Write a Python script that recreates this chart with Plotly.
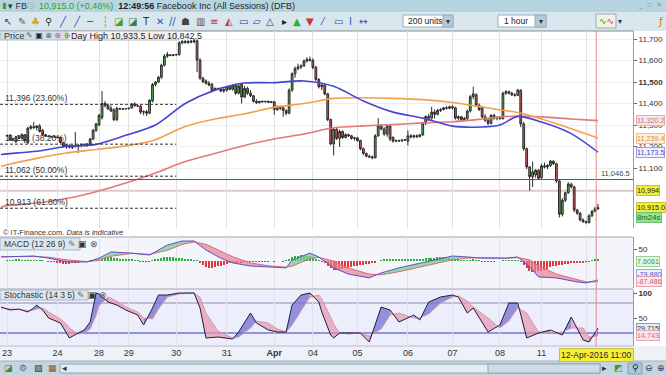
import plotly.graph_objects as go

# ---------------- data ----------------
day_labels = ["23", "24", "28", "29", "30", "31", "Apr", "04", "05", "06", "07", "08", "11", "12"]
bars_per_day = [17, 14, 10, 16, 17, 16, 13, 15, 17, 15, 16, 14, 15, 5]
crosshair_label = "12-Apr-2016 11:00"

bar_open = [
    11250, 11252, 11232, 11222, 11245, 11238, 11255, 11218, 11285, 11292, 11288, 11295, 11275, 11255, 11248, 11246, 11245,
    11244, 11242, 11218, 11200, 11205, 11196, 11204, 11200, 11205, 11208, 11204, 11210, 11235, 11275,
    11300, 11335, 11400, 11392, 11378, 11370, 11325, 11376, 11374, 11375,
    11376, 11380, 11398, 11390, 11388, 11360, 11362, 11355, 11412, 11488, 11500, 11522, 11578, 11620, 11626, 11624,
    11626, 11628, 11682, 11688, 11684, 11690, 11686, 11692, 11602, 11518, 11505, 11494, 11490, 11462, 11470, 11468, 11458,
    11462, 11478, 11466, 11485, 11448, 11490, 11430, 11470, 11448, 11436, 11410, 11404, 11410, 11408, 11410, 11406,
    11408, 11372, 11385, 11380, 11368, 11355, 11462, 11538, 11562, 11570, 11575, 11598, 11605,
    11600, 11568, 11512, 11478, 11486, 11445, 11325, 11212, 11280, 11238, 11270, 11242, 11255, 11250, 11238,
    11240, 11228, 11190, 11168, 11155, 11152, 11148, 11250, 11298, 11282, 11258, 11295, 11242, 11225, 11228, 11226, 11230,
    11225, 11250, 11245, 11250, 11246, 11254, 11308, 11340, 11332, 11360, 11350, 11368, 11372, 11380, 11378,
    11385, 11380, 11332, 11338, 11325, 11330, 11365, 11432, 11440, 11392, 11380, 11338, 11322, 11308, 11345, 11332,
    11336, 11330, 11448, 11455, 11448, 11440, 11438, 11462, 11305, 11190, 11105, 11060, 11068, 11090,
    11055, 11110, 11105, 11112, 11132, 11120, 11040, 10885, 10950, 10985, 11025, 11012, 10905, 10890, 10858,
    10850, 10846, 10878, 10898, 10910,
]
bar_high = [
    11254, 11258, 11240, 11250, 11252, 11262, 11258, 11292, 11300, 11314, 11300, 11305, 11282, 11258, 11250, 11248, 11247,
    11246, 11246, 11222, 11212, 11210, 11208, 11268, 11212, 11214, 11215, 11215, 11240, 11282, 11310,
    11352, 11458, 11412, 11400, 11390, 11378, 11384, 11380, 11378, 11378,
    11380, 11402, 11405, 11392, 11392, 11368, 11370, 11420, 11495, 11505, 11528, 11585, 11630, 11640, 11630, 11628,
    11630, 11690, 11695, 11695, 11692, 11696, 11700, 11698, 11610, 11524, 11512, 11505, 11495, 11475, 11474, 11475, 11470,
    11482, 11485, 11490, 11492, 11490, 11496, 11482, 11478, 11462, 11440, 11420, 11412, 11414, 11412, 11414, 11410,
    11412, 11392, 11390, 11386, 11372, 11470, 11545, 11572, 11585, 11582, 11605, 11615, 11618,
    11610, 11575, 11518, 11490, 11490, 11450, 11330, 11290, 11292, 11278, 11275, 11262, 11260, 11254, 11245,
    11245, 11232, 11195, 11172, 11162, 11158, 11258, 11332, 11305, 11290, 11300, 11300, 11248, 11232, 11232, 11232, 11234,
    11275, 11258, 11255, 11256, 11258, 11315, 11345, 11352, 11385, 11372, 11375, 11378, 11384, 11388, 11390,
    11392, 11385, 11345, 11342, 11338, 11372, 11440, 11478, 11448, 11400, 11388, 11350, 11330, 11350, 11352, 11340,
    11342, 11455, 11462, 11460, 11455, 11448, 11468, 11466, 11315, 11195, 11110, 11130, 11095, 11095,
    11120, 11125, 11118, 11138, 11136, 11125, 11045, 10960, 10990, 11035, 11032, 11018, 10910, 10895, 10866,
    10856, 10885, 10905, 10920, 10933.5,
]
bar_low = [
    11246, 11228, 11225, 11218, 11235, 11232, 11216, 11212, 11278, 11282, 11275, 11265, 11250, 11245, 11244, 11243, 11242,
    11240, 11215, 11195, 11190, 11192, 11188, 11195, 11170, 11196, 11200, 11198, 11205, 11230, 11268,
    11295, 11325, 11382, 11370, 11360, 11318, 11318, 11372, 11370, 11372,
    11372, 11375, 11385, 11385, 11350, 11345, 11342, 11350, 11405, 11480, 11495, 11515, 11572, 11612, 11620, 11620,
    11622, 11622, 11675, 11678, 11676, 11680, 11680, 11546, 11510, 11495, 11488, 11480, 11452, 11458, 11465, 11452, 11450,
    11455, 11462, 11460, 11440, 11442, 11400, 11425, 11440, 11430, 11405, 11398, 11400, 11405, 11404, 11405, 11402,
    11348, 11365, 11370, 11338, 11345, 11350, 11455, 11520, 11555, 11560, 11570, 11590, 11595,
    11560, 11505, 11470, 11462, 11438, 11318, 11205, 11158, 11230, 11198, 11235, 11238, 11245, 11232, 11228,
    11222, 11182, 11160, 11150, 11145, 11140, 11144, 11245, 11275, 11250, 11245, 11225, 11218, 11220, 11222, 11222, 11225,
    11205, 11238, 11238, 11240, 11242, 11250, 11300, 11320, 11325, 11330, 11345, 11360, 11368, 11372, 11374,
    11372, 11325, 11322, 11318, 11318, 11322, 11358, 11420, 11385, 11365, 11330, 11315, 11300, 11302, 11325, 11322,
    11325, 11325, 11440, 11442, 11435, 11432, 11434, 11290, 11180, 11095, 10995, 11012, 11055, 11045,
    11050, 11098, 11095, 11105, 11115, 11030, 10870, 10875, 10942, 10980, 11005, 10895, 10882, 10852, 10845,
    10842.5, 10843, 10872, 10895, 10905,
]
bar_close = [
    11252, 11232, 11236, 11245, 11240, 11255, 11228, 11285, 11292, 11288, 11295, 11270, 11255, 11248, 11246, 11245, 11244,
    11242, 11218, 11200, 11205, 11196, 11204, 11200, 11205, 11208, 11204, 11212, 11235, 11275, 11305,
    11345, 11400, 11390, 11375, 11365, 11325, 11378, 11374, 11375, 11376,
    11378, 11398, 11390, 11388, 11360, 11362, 11355, 11415, 11488, 11500, 11522, 11578, 11620, 11628, 11624, 11626,
    11628, 11682, 11688, 11684, 11690, 11686, 11692, 11602, 11518, 11502, 11494, 11486, 11460, 11470, 11468, 11458, 11466,
    11478, 11466, 11485, 11448, 11482, 11430, 11470, 11448, 11436, 11410, 11404, 11410, 11408, 11410, 11406, 11408,
    11372, 11385, 11378, 11368, 11355, 11462, 11538, 11562, 11570, 11575, 11598, 11605, 11600,
    11568, 11512, 11478, 11486, 11445, 11325, 11212, 11280, 11238, 11270, 11242, 11255, 11250, 11238, 11240,
    11228, 11190, 11168, 11155, 11152, 11148, 11250, 11298, 11282, 11258, 11295, 11235, 11225, 11228, 11226, 11230, 11232,
    11250, 11245, 11250, 11246, 11254, 11308, 11340, 11332, 11360, 11350, 11368, 11372, 11380, 11378, 11385,
    11380, 11332, 11338, 11325, 11330, 11365, 11432, 11445, 11392, 11372, 11338, 11322, 11308, 11345, 11332, 11336,
    11330, 11448, 11455, 11448, 11440, 11438, 11462, 11305, 11190, 11105, 11060, 11082, 11090, 11052,
    11110, 11105, 11112, 11132, 11120, 11040, 10885, 10950, 10985, 11025, 11012, 10905, 10890, 10858, 10850,
    10846, 10878, 10898, 10910, 10915.0,
]

# moving averages, read at selected bar numbers
ma_bar = [-2, 0, 10, 20, 30, 40, 50, 60, 70, 80, 90, 100, 110, 120, 130, 140, 150, 160, 166, 172, 180, 190, 199]
ma_blue = [11163, 11166, 11178, 11200, 11210, 11252, 11300, 11400, 11462, 11495, 11497, 11505, 11480, 11412, 11360,
           11332, 11295, 11291, 11300, 11340, 11314, 11260, 11173.5]
ma_orange = [11108, 11115, 11145, 11170, 11186, 11203, 11232, 11293, 11328, 11352, 11382, 11400, 11424, 11427, 11424,
             11418, 11405, 11384, 11370, 11358, 11328, 11283, 11239.4]
ma_red = [10918, 10925, 10937, 10958, 10990, 11030, 11077, 11130, 11168, 11205, 11235, 11258, 11287, 11296, 11302,
          11310, 11315, 11328, 11337, 11342, 11338, 11328, 11320.2]

fib_pct = ["23.60%", "38.20%", "50.00%", "61.80%"]
fib_level = [11396, 11211, 11062, 10913]
fib_end_bar = 57
hline_dark = 11046.5
hline_light = 10994
price_ticks = [11100, 11200, 11300, 11400, 11500, 11600, 11700]

# MACD (12 26 9)
macd_bar = [-2, 9, 14, 20, 27, 31, 35, 42, 48, 54, 59, 63, 67, 72, 76, 82, 88, 94, 96, 102,
            105, 110, 115, 122, 126, 132, 141, 150, 155, 160, 168, 172, 176, 179, 185, 192, 195, 199]
macd_line = [17, 21, 12, -4, -4, 12, 38, 33, 25, 67, 84, 84, 46, 12, -8, -21, -25, -29, 4, 33,
             17, -29, -55, -71, -50, -29, -4, 21, 17, 12, 12, 17, -25, -67, -71, -88, -92, -79.880]
macd_signal = [18, 19, 16, 5, -3, 3, 20, 32, 28, 45, 70, 80, 70, 40, 18, -8, -20, -26, -22, 10,
               15, 0, -30, -55, -58, -45, -20, 5, 12, 14, 12, 14, 5, -20, -55, -78, -88, -87.486]
macd_hist = [
    3, 4, 4, 5, 5, 4, 4, 3, 3, 2, 2, 1, 1, 0, -1, -2, -4,
    -6, -9, -11, -12, -12, -10, -8, -6, -4, -2, 0, 2, 4, 7,
    10, 14, 16, 16, 15, 13, 12, 10, 9, 8,
    6, 5, 3, 1, -2, -4, -4, -2, 2, 6, 10, 14, 17, 18, 18, 16,
    14, 13, 12, 10, 8, 6, 4, 1, -8, -18, -25, -28, -28, -26, -23, -20, -16,
    -12, -9, -7, -5, -4, -5, -4, -4, -3, -3, -2, -2, -1, -1, -1, 0,
    -1, 0, 0, -1, 1, 8, 15, 20, 23, 25, 25, 23, 20,
    15, 10, 4, -2, -10, -20, -30, -36, -37, -36, -34, -31, -28, -25, -22,
    -19, -17, -15, -13, -11, -9, -6, 0, 4, 6, 8, 9, 10, 10, 10, 10, 9,
    9, 9, 8, 8, 9, 10, 11, 12, 13, 14, 15, 16, 16, 15, 13,
    10, 7, 5, 3, 1, 2, 4, 5, 3, 1, -1, -2, -2, -1, -1, 0,
    0, 2, 3, 3, 2, 2, 2, -4, -15, -28, -40, -45, -45, -44,
    -40, -36, -32, -27, -23, -20, -18, -15, -13, -11, -9, -10, -10, -9, -7,
    -4, -1, 2, 5, 7.6061,
]

# Stochastic (14 3 5)
stoch_bar = [-2, 1, 4, 7, 9, 10, 12, 14, 18, 20, 21, 24, 26, 28, 30, 31, 34, 37, 40, 44,
             46, 49, 51, 54, 58, 63, 65, 67, 71, 76, 78, 82, 84, 88, 91, 94, 96, 99, 102, 105,
             106, 109, 110, 112, 115, 119, 122, 126, 129, 132, 137, 139, 142, 146, 150, 152, 155, 157, 162, 166,
             169, 172, 175, 179, 183, 187, 190, 194, 196, 199]
stoch_k = [72, 66, 68, 62, 70, 76, 66, 50, 40, 20, 10, 20, 26, 42, 100, 98, 82, 76, 66, 56,
           36, 70, 96, 96, 100, 100, 70, 10, 12, 8, 22, 60, 40, 26, 22, 22, 76, 96, 100, 82,
           62, 16, 10, 20, 20, 20, 2, 72, 66, 42, 56, 46, 82, 92, 96, 92, 60, 70, 22, 36,
           80, 80, 10, 20, 26, 16, 52, 6, 2, 29.715]
stoch_d = [70, 68, 67, 65, 66, 68, 70, 62, 48, 38, 30, 18, 20, 28, 55, 75, 92, 84, 72, 62,
           50, 48, 68, 92, 98, 100, 92, 60, 24, 10, 12, 30, 44, 40, 28, 22, 36, 64, 92, 96,
           88, 52, 38, 20, 18, 20, 14, 28, 56, 60, 50, 50, 58, 80, 92, 94, 84, 72, 50, 30,
           44, 70, 60, 22, 20, 22, 30, 30, 12, 14.743]
stoch_levels = [80, 20]

n_bars = sum(bars_per_day)
for arr in (bar_open, bar_high, bar_low, bar_close, macd_hist):
    assert len(arr) == n_bars, len(arr)
assert len(ma_bar) == len(ma_blue) == len(ma_orange) == len(ma_red)
assert len(macd_bar) == len(macd_line) == len(macd_signal)
assert len(stoch_bar) == len(stoch_k) == len(stoch_d)

# ---------------- layout helpers ----------------
W, H = 666, 375
FONT = "Liberation Sans, Arial, sans-serif"
ICONF = "DejaVu Sans"


def fx(p):
    return p / W


def fy(p):
    return 1 - p / H


bar_x = list(range(n_bars))
day_start = []
acc = 0
for n in bars_per_day:
    day_start.append(acc)
    acc += n
last_bar = bar_x[-1]
X_RANGE = [-2.36, 210.8]

fig = go.Figure()

# ---- main price panel ----
fig.add_trace(go.Candlestick(
    x=bar_x, open=bar_open, high=bar_high, low=bar_low, close=bar_close,
    xaxis="x", yaxis="y", whiskerwidth=0,
    increasing=dict(fillcolor="#4fb84a", line=dict(color="#2a2a2a", width=1)),
    decreasing=dict(fillcolor="#d45a58", line=dict(color="#2a2a2a", width=1)),
    hoverinfo="skip", showlegend=False))
for vals, col in ((ma_red, "#e4787c"), (ma_orange, "#f3a04a"), (ma_blue, "#4444d6")):
    fig.add_trace(go.Scatter(x=ma_bar, y=vals, mode="lines", xaxis="x", yaxis="y",
                             line=dict(color=col, width=1.6, shape="spline", smoothing=0.8),
                             hoverinfo="skip", showlegend=False))


def ribbon(idx, a, b, pos_col, neg_col, xa, ya):
    out = []
    for col, sign in ((pos_col, 1), (neg_col, -1)):
        xs, ys = [], []
        for j in range(len(idx) - 1):
            d = (a[j] - b[j]) + (a[j + 1] - b[j + 1])
            if d * sign > 0:
                xs += [idx[j], idx[j + 1], idx[j + 1], idx[j], idx[j], None]
                ys += [a[j], a[j + 1], b[j + 1], b[j], a[j], None]
        out.append(go.Scatter(x=xs, y=ys, fill="toself", fillcolor=col, mode="none",
                              xaxis=xa, yaxis=ya, hoverinfo="skip", showlegend=False))
    return out


# ---- MACD panel ----
fig.add_trace(go.Bar(x=bar_x, y=macd_hist, width=0.45, xaxis="x2", yaxis="y2",
                     marker=dict(color=["#2fae3a" if v >= 0 else "#e03a3a" for v in macd_hist], line=dict(width=0)),
                     hoverinfo="skip", showlegend=False))
for t in ribbon(macd_bar, macd_line, macd_signal, "rgba(120,205,140,0.75)", "rgba(232,128,150,0.7)", "x2", "y2"):
    fig.add_trace(t)
fig.add_trace(go.Scatter(x=macd_bar, y=macd_signal, mode="lines", xaxis="x2", yaxis="y2",
                         line=dict(color="#d86a82", width=1), hoverinfo="skip", showlegend=False))
fig.add_trace(go.Scatter(x=macd_bar, y=macd_line, mode="lines", xaxis="x2", yaxis="y2",
                         line=dict(color="#5a52c8", width=1), hoverinfo="skip", showlegend=False))

# ---- Stochastic panel ----
for t in ribbon(stoch_bar, stoch_k, stoch_d, "rgba(112,112,212,0.75)", "rgba(230,150,172,0.7)", "x3", "y3"):
    fig.add_trace(t)
fig.add_trace(go.Scatter(x=stoch_bar, y=stoch_d, mode="lines", xaxis="x3", yaxis="y3",
                         line=dict(color="#dc98aa", width=1), hoverinfo="skip", showlegend=False))
fig.add_trace(go.Scatter(x=stoch_bar, y=stoch_k, mode="lines", xaxis="x3", yaxis="y3",
                         line=dict(color="#1e1e3c", width=1), hoverinfo="skip", showlegend=False))

# ---------------- shapes ----------------
shapes = []


def rect(x0, y0, x1, y1, fill, line=None, layer="below", lw=1):
    shapes.append(dict(type="rect", xref="paper", yref="paper", x0=fx(x0), x1=fx(x1), y0=fy(y1), y1=fy(y0),
                       fillcolor=fill, line=dict(color=line if line else fill, width=lw if line else 0), layer=layer))


def hline_px(y, x0, x1, color, width=1, layer="below", dash=None):
    shapes.append(dict(type="line", xref="paper", yref="paper", x0=fx(x0), x1=fx(x1), y0=fy(y), y1=fy(y),
                       line=dict(color=color, width=width, dash=dash), layer=layer))


# chrome
rect(0, 0, 666, 11, "#b7d5e1")
rect(0, 11, 666, 31, "#d8e7ee")
hline_px(11, 0, 666, "#a8c4d0")
rect(0, 228, 666, 237, "#ffffff")
rect(0, 237, 633, 289, "#f4f4fb")
rect(0, 289, 633, 346, "#eceffb")
rect(0, 346, 666, 361, "#eef1f8")
rect(0, 361, 666, 375, "#c4d5e0")
hline_px(31, 0, 633, "#8a8a8a")
hline_px(237, 0, 633, "#a4a4b4")
hline_px(289, 0, 633, "#a4a4b4")
hline_px(346, 0, 633, "#b8bccc")
hline_px(361, 0, 666, "#9fb4c2")

# toolbar dropdowns
rect(403, 15, 453, 27, "#ffffff", "#9ab0bc", layer="above")
rect(443, 15, 453, 27, "#b4c9d6", "#9ab0bc", layer="above")
rect(498, 15, 546, 27, "#ffffff", "#9ab0bc", layer="above")
rect(535, 15, 546, 27, "#b4c9d6", "#9ab0bc", layer="above")
rect(596, 14, 616, 28, "#eef3e6", "#9aaab4", layer="above")
# panel headers
rect(0, 31, 66, 40, "#cfe0ea", "#a9bfcc", layer="above")
rect(67, 31, 176, 40, "#f3f3f3", "#b8b8b8", layer="above")
rect(0, 238, 80, 250, "#dbe6f0", "#a8b8c8", layer="above")
rect(0, 290, 88, 300, "#dbe6f0", "#a8b8c8", layer="above")
# bottom toolbar scroll bar
rect(60, 364, 600, 373, "#e3ecf2", "#8fa6b5", layer="above")
rect(488, 364, 600, 373, "#cfdce6", "#8fa6b5", layer="above")
rect(628, 363, 642, 374, "#a9c8e0", "#7fa0bc", layer="above")

# price lines
shapes.append(dict(type="line", xref="paper", yref="y", x0=0, x1=fx(633), y0=hline_light, y1=hline_light,
                   line=dict(color="#dcc8cc", width=2), layer="below"))
shapes.append(dict(type="line", xref="paper", yref="y", x0=0, x1=fx(633), y0=hline_dark, y1=hline_dark,
                   line=dict(color="#5a5a5a", width=1), layer="above"))
for lvl in fib_level:
    shapes.append(dict(type="line", xref="x", yref="y", x0=X_RANGE[0], x1=fib_end_bar, y0=lvl, y1=lvl,
                       line=dict(color="#333333", width=1, dash="3px,2px"), layer="above"))
for lvl, col, w in zip(stoch_levels, ["#8c8cb8", "#7676d6"], [1, 1.6]):
    shapes.append(dict(type="line", xref="paper", yref="y3", x0=0, x1=fx(633), y0=lvl, y1=lvl,
                       line=dict(color=col, width=w), layer="below"))
# crosshair at last bar
shapes.append(dict(type="line", xref="x", yref="paper", x0=last_bar - 0.6, x1=last_bar - 0.6, y0=fy(346), y1=fy(31),
                   line=dict(color="#e68c8c", width=1), layer="above"))

# ---------------- annotations ----------------
ann = []


def text(t, x, y, size=9, color="#333", xanchor="left", yanchor="middle", family=FONT, **kw):
    ann.append(dict(text=t, x=fx(x), y=fy(y), xref="paper", yref="paper", showarrow=False,
                    xanchor=xanchor, yanchor=yanchor, font=dict(size=size, color=color, family=family), **kw))


def box(t, yval, yref, fg, bg, border, size=7.2, yshift=0):
    ann.append(dict(text=t, x=fx(635.5), y=yval, xref="paper", yref=yref, showarrow=False,
                    xanchor="left", yanchor="middle", yshift=yshift,
                    font=dict(size=size, color=fg, family=FONT), bgcolor=bg, bordercolor=border,
                    borderwidth=1, borderpad=0))


# title bar
text("▮", 0, 5.5, size=8, color="#3a9a3a", family=ICONF)
text("▾ FB", 6, 5.5, size=9, color="#333")
text("ⓘ", 30, 5.5, size=7, color="#8a9aa6", xanchor="center", family=ICONF)
last_close = bar_close[-1]
text(f"<span style='color:#2e9e2e'>{last_close:,.1f} (+0.48%)</span>  <b>12:49:56</b> Facebook Inc (All Sessions) (DFB)",
     37, 5.5, size=9, color="#222")
text("_  ▫  ✕", 664, 4.5, size=7, color="#7e98a6", xanchor="right", family=ICONF)

# toolbar icons
tool_icons = [(8, "↖", "#333"), (22, "✎", "#666"), (35, "♣", "#d8a820"), (49, "⚲", "#333"),
              (63, "╱", "#2d4fc0"), (77, "╱", "#2d4fc0"), (90, "─", "#2d4fc0"), (105, "┆", "#7a8a96"),
              (118, "◪", "#4a9a30"), (132, "◪", "#3c7a5a"), (146, "T", "#333"), (160, "✕", "#2d4fc0"),
              (173, "//", "#2d4fc0"), (186, "☗", "#444"), (200, "▥", "#555"), (214, "≡", "#c03838"),
              (229, "◭", "#c84040"), (243, "▭", "#2a3f9a"), (257, "▱", "#2a3f9a"), (270, "△", "#2a3f9a"),
              (284, "▸", "#222"), (297, "▲", "#2fae3a"), (310, "▼", "#d83030"), (323, "⁄", "#2a4fa8"),
              (338, "▭", "#2a4fa8"), (351, "I", "#2d4fc0"), (363, "↔", "#2d4fc0")]
for xp, g, c in tool_icons:
    text(g, xp, 21, size=10, color=c, xanchor="center", family=ICONF)
text("200 units", 406, 21, size=8.5, color="#222")
text("▾", 448, 21, size=8, color="#334", xanchor="center", family=ICONF)
text("1 hour", 502, 21, size=8.5, color="#222")
text("▾", 540.5, 21, size=8, color="#334", xanchor="center", family=ICONF)
text("<span style='color:#3a9a3a'>∿</span><span style='color:#d04040'>∿</span>", 606, 21, size=9, xanchor="center", family=ICONF)
text("▾", 620, 21, size=8, color="#334", xanchor="center", family=ICONF)
text("ƒ", 661, 21, size=11, color="#d07a20", xanchor="center", family=ICONF)

# panel headers
text("Price", 2, 35.5, size=9, color="#333")
text("<span style='color:#666'>✎</span> ▣ <span style='color:#555'>⊗</span> <span style='color:#e04040'>⊕</span> <span style='color:#40a040'>⊕</span>",
     24, 35.5, size=8, color="#222", family=ICONF)
day0 = day_start[-1]
text(f"Day High {max(bar_high[day0:]):,.1f} Low {min(bar_low[day0:]):,.1f}", 69, 35.5, size=9, color="#222")
text("© IT-Finance.com. <i>Data is indicative</i>", 1, 232.5, size=7.5, color="#333")
text("MACD (12 26 9) <span style='color:#666'>✎</span> ▣ <span style='color:#555'>⊗</span>", 2, 244, size=8.5, color="#333")
text("Stochastic (14 3 5) <span style='color:#666'>✎</span> ▣ <span style='color:#555'>⊗</span>", 2, 295, size=8.5, color="#333")

# fib labels
for lvl, pct in zip(fib_level, fib_pct):
    ann.append(dict(text=f"{lvl:,} ({pct})", x=fx(3), y=lvl, xref="paper", yref="y", showarrow=False,
                    xanchor="left", yanchor="bottom", yshift=-1, font=dict(size=8.5, color="#333", family=FONT)))
ann.append(dict(text=f"{hline_dark:,.1f}", x=fx(632), y=hline_dark, xref="paper", yref="y", showarrow=False,
                xanchor="right", yanchor="bottom", yshift=0, font=dict(size=7.5, color="#444", family=FONT)))

# right-hand value boxes
box(f"{ma_red[-1]:,.1f}", ma_red[-1], "y", "#c8707a", "#f7e7eb", "#e6aab6")
box(f"{ma_orange[-1]:,.1f}", ma_orange[-1], "y", "#e08a3a", "#fcefdf", "#f0c08a")
box(f"{ma_blue[-1]:,.1f}", ma_blue[-1], "y", "#4848d0", "#eef0fc", "#9a9ae8")
box(f"{hline_light:,}", hline_light, "y", "#222", "#f6ef3a", "#c8c040")
box(f"{last_close:,.1f}", last_close, "y", "#222", "#f6ef3a", "#c8c040")
box("8m24s", last_close, "y", "#1f6a1f", "#93e293", "#6cc06c", size=7.8, yshift=-10)
box(f"{macd_hist[-1]:.4f}", 0, "y2", "#3a9a3a", "#e6f6e6", "#9ad09a")
box(f"{macd_line[-1]:.3f}", macd_line[-1], "y2", "#5050d0", "#f0f0ff", "#a0a0e6", yshift=6)
box(f"{macd_signal[-1]:.3f}", macd_signal[-1], "y2", "#d06070", "#fbe8ec", "#e0a0b0")
box(f"{stoch_k[-1]:.3f}", stoch_k[-1], "y3", "#333", "#e8ecf4", "#9098b8")
box(f"{stoch_d[-1]:.3f}", stoch_d[-1], "y3", "#d07080", "#f8e4ea", "#e0a8b8")

# date of crosshair (covers the last day's tick label, as in the reference)
ann.append(dict(text=crosshair_label, x=last_bar - 0.6, y=fy(354.5), xref="x", yref="paper", showarrow=False,
                xanchor="center", yanchor="middle", font=dict(size=8.5, color="#222", family=FONT),
                bgcolor="#f6ef3a", bordercolor="#c8c040", borderwidth=1, borderpad=1))

# bottom toolbar icons
for xp, g, c in [(8, "◪", "#3a8a3a"), (23, "⚙", "#4a6a9a"), (38, "▧", "#333"), (52, "▦", "#8a5a2a"),
                 (64, "◂", "#333"), (604, "▸", "#333"), (618, "◩", "#3a9a3a"), (635, "⚲", "#223"),
                 (649, "⊖", "#334"), (661, "⊕", "#334")]:
    text(g, xp, 368, size=9, color=c, xanchor="center", family=ICONF)

# ---------------- axes ----------------
grid_x = dict(tickvals=day_start, showgrid=True, gridcolor="#e2e2e6", gridwidth=1, zeroline=False, ticks="",
              range=X_RANGE, domain=[0, fx(633)], showline=False)
tickf = dict(size=8, color="#333")
date_text = ["<b>Apr</b>" if d == "Apr" else d for d in day_labels]
date_text[-1] = ""  # hidden under the crosshair date box
fig.update_layout(
    width=W, height=H, margin=dict(l=0, r=0, t=0, b=0),
    paper_bgcolor="#ffffff", plot_bgcolor="rgba(0,0,0,0)", showlegend=False,
    font=dict(family=FONT, size=9, color="#333"),
    boxgap=0.15, bargap=0,
    xaxis=dict(anchor="y", showticklabels=False, rangeslider=dict(visible=False), **grid_x),
    xaxis2=dict(anchor="y2", matches="x", showticklabels=False, **grid_x),
    xaxis3=dict(anchor="y3", matches="x", showticklabels=True, ticktext=date_text,
                tickfont=dict(size=9, color="#333"), **grid_x),
    yaxis=dict(anchor="x", domain=[fy(228), fy(31)], range=[10821.1, 11737.2], side="right",
               tickvals=price_ticks,
               ticktext=[f"<b>{v:,}</b>" if v == 11500 else f"{v:,}" for v in price_ticks],
               ticks="outside", ticklen=3, tickcolor="#666", tickfont=tickf,
               showgrid=True, gridcolor="#eeeeee", zeroline=False, showline=True, linecolor="#9a9a9a"),
    yaxis2=dict(anchor="x2", domain=[fy(288), fy(237)], range=[-113.4, 100.8], side="right",
                tickvals=[50], ticks="outside", ticklen=3, tickcolor="#666", tickfont=tickf,
                showgrid=False, zeroline=False, showline=True, linecolor="#9a9a9a"),
    yaxis3=dict(anchor="x3", domain=[fy(346), fy(290)], range=[-6, 106], side="right",
                tickvals=[50, 100], ticktext=["50", "<b>100</b>"], ticks="outside", ticklen=3, tickcolor="#666",
                tickfont=tickf, showgrid=False, zeroline=False, showline=True,
                linecolor="#9a9a9a"),
    shapes=shapes, annotations=ann,
)

fig.write_html("out.html", config={"displayModeBar": False},
               post_script="document.body.style.margin='0';document.body.style.overflow='hidden';")
